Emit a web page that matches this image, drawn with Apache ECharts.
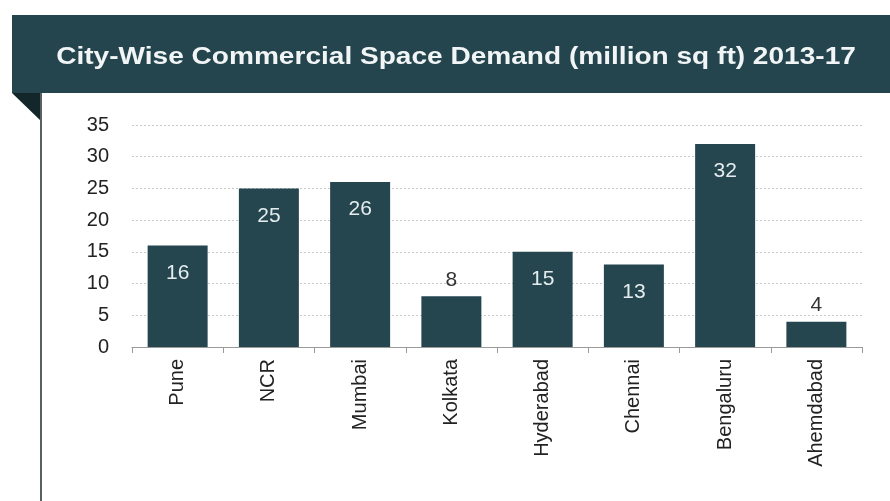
<!DOCTYPE html>
<html>
<head>
<meta charset="utf-8">
<script src="https://cdn.jsdelivr.net/npm/echarts@6/dist/echarts.min.js"></script>
<style>
  html, body { margin: 0; padding: 0; background: #ffffff; }
  #chart { width: 890px; height: 501px; }
</style>
</head>
<body>
<div id="chart"></div>
<script>
// City-wise commercial space demand, million sq ft, 2013-17
const cities = ['Pune', 'NCR', 'Mumbai', 'Kolkata', 'Hyderabad', 'Chennai', 'Bengaluru', 'Ahemdabad'];
const demand = [16, 25, 26, 8, 15, 13, 32, 4];
const yTicks = [0, 5, 10, 15, 20, 25, 30, 35];

const titleText = 'City-Wise Commercial Space Demand (million sq ft) 2013-17';
const barColor = '#25464f';
const bannerColor = '#24444e';
const fontFamily = '"Liberation Sans", Arial, sans-serif';

// Short bars carry their value above the bar, tall ones inside near the top
const barData = demand.map(v => ({
  value: v,
  label: v < 10
    ? { position: 'top', distance: 6, color: '#333333' }
    : { position: 'insideTop', distance: 17, color: '#e4ecee' }
}));

const chart = echarts.init(document.getElementById('chart'), null, { renderer: 'canvas' });

chart.setOption({
  backgroundColor: '#ffffff',
  animation: false,
  graphic: [
    // header banner
    {
      type: 'rect',
      shape: { x: 12, y: 15, width: 878, height: 78 },
      style: { fill: bannerColor },
      z: -1
    },
    // folded corner under the banner
    {
      type: 'polygon',
      shape: { points: [[12, 93], [41, 93], [41, 121]] },
      style: { fill: '#13272b' },
      z: -1
    },
    // panel left edge
    {
      type: 'line',
      shape: { x1: 41, y1: 93, x2: 41, y2: 501 },
      style: { stroke: '#5a5f60', lineWidth: 2 },
      z: -1
    },
    // banner heading, set in a wide bold face
    {
      type: 'text',
      x: 456,
      y: 58,
      scaleX: 1.22,
      scaleY: 1,
      z: 10,
      style: {
        text: titleText,
        fill: '#f2f5f5',
        font: 'bold 23px "Liberation Sans", Arial, sans-serif',
        align: 'center',
        verticalAlign: 'middle'
      }
    }
  ],
  grid: {
    left: 132,
    right: 28,
    top: 125,
    bottom: 154,
    containLabel: false
  },
  xAxis: {
    type: 'category',
    data: cities,
    boundaryGap: true,
    axisLine: { show: true, lineStyle: { color: '#9a9a9a', width: 1 } },
    axisTick: { show: true, length: 6, lineStyle: { color: '#9a9a9a' } },
    axisLabel: {
      rotate: 90,
      margin: 12,
      fontSize: 20,
      color: '#222222',
      fontFamily: fontFamily,
      interval: 0
    }
  },
  yAxis: {
    type: 'value',
    min: yTicks[0],
    max: yTicks[yTicks.length - 1],
    interval: yTicks[1] - yTicks[0],
    axisLine: { show: false },
    axisTick: { show: false },
    axisLabel: {
      fontSize: 20,
      color: '#222222',
      margin: 23,
      fontFamily: fontFamily
    },
    splitLine: {
      show: true,
      lineStyle: { color: '#c9c9c9', type: [2, 2], width: 1 }
    }
  },
  series: [{
    type: 'bar',
    data: barData,
    barWidth: 60,
    itemStyle: { color: barColor },
    label: {
      show: true,
      fontSize: 21,
      fontFamily: fontFamily
    }
  }]
});
</script>
</body>
</html>
